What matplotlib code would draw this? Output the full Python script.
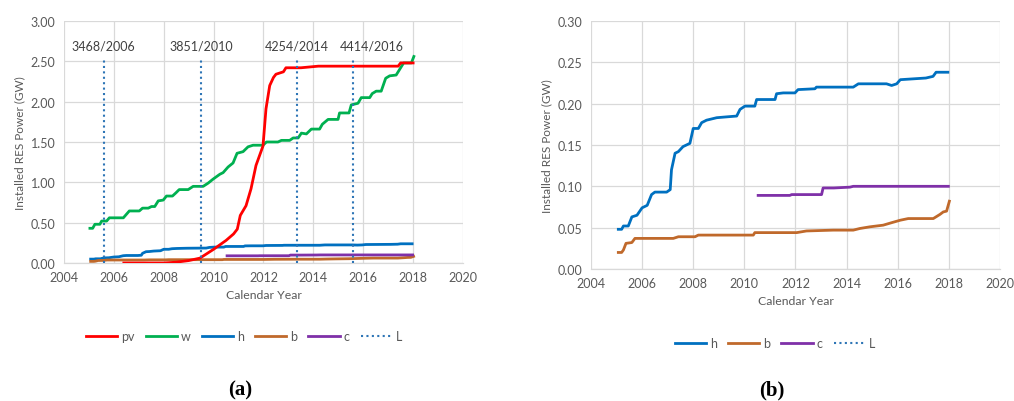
import matplotlib
matplotlib.use("Agg")
import matplotlib.pyplot as plt

# ---------------- data ----------------
pv_year = [2006.4, 2008.0, 2008.5, 2009.0, 2009.45, 2010.0, 2010.5, 2010.8, 2010.95, 2011.07,
           2011.3, 2011.5, 2011.7, 2011.98, 2012.1, 2012.25, 2012.4, 2012.5, 2012.8, 2012.9,
           2013.5, 2014.2, 2017.4, 2017.5, 2018.0]
pv = [0.0, 0.0, 0.01, 0.03, 0.06, 0.17, 0.28, 0.36, 0.42, 0.59,
      0.71, 0.92, 1.21, 1.45, 1.91, 2.20, 2.30, 2.34, 2.37, 2.42,
      2.42, 2.44, 2.44, 2.48, 2.48]

w_year = [2005.04, 2005.15, 2005.24, 2005.44, 2005.51, 2005.71, 2005.82, 2006.38, 2006.62, 2007.02,
          2007.15, 2007.38, 2007.51, 2007.64, 2007.78, 2007.98, 2008.11, 2008.35, 2008.49, 2008.62,
          2008.98, 2009.18, 2009.58, 2009.78, 2009.98, 2010.25, 2010.38, 2010.58, 2010.78, 2010.94,
          2011.18, 2011.38, 2011.58, 2011.98, 2012.12, 2012.58, 2012.72, 2013.05, 2013.19, 2013.39,
          2013.52, 2013.72, 2013.92, 2014.25, 2014.36, 2014.59, 2014.99, 2015.05, 2015.43, 2015.52,
          2015.79, 2015.92, 2016.26, 2016.36, 2016.52, 2016.72, 2016.90, 2017.06, 2017.32, 2017.46,
          2017.62, 2017.93, 2018.03]
w = [0.43, 0.43, 0.48, 0.48, 0.52, 0.52, 0.56, 0.56, 0.645, 0.645,
     0.68, 0.68, 0.70, 0.70, 0.77, 0.78, 0.83, 0.83, 0.87, 0.91,
     0.91, 0.95, 0.95, 0.99, 1.04, 1.10, 1.12, 1.19, 1.24, 1.36,
     1.38, 1.44, 1.46, 1.46, 1.50, 1.50, 1.52, 1.52, 1.55, 1.55,
     1.61, 1.60, 1.66, 1.66, 1.72, 1.78, 1.78, 1.86, 1.86, 1.96,
     1.98, 2.05, 2.05, 2.10, 2.13, 2.13, 2.29, 2.32, 2.33, 2.40,
     2.48, 2.48, 2.56]

h_year = [2005.07, 2005.2, 2005.27, 2005.46, 2005.6, 2005.8, 2006.0, 2006.2, 2006.37, 2006.5,
          2006.96, 2007.1, 2007.15, 2007.29, 2007.42, 2007.6, 2007.87, 2008.0, 2008.2, 2008.33,
          2008.52, 2008.92, 2009.3, 2009.7, 2009.83, 2010.02, 2010.41, 2010.48, 2011.2, 2011.26,
          2011.52, 2011.98, 2012.1, 2012.76, 2012.82, 2014.26, 2014.46, 2015.56, 2015.76, 2015.96,
          2016.1, 2016.6, 2017.1, 2017.38, 2017.5, 2017.96]
h = [0.048, 0.048, 0.052, 0.052, 0.063, 0.065, 0.074, 0.077, 0.090, 0.093,
     0.093, 0.096, 0.120, 0.140, 0.142, 0.148, 0.152, 0.170, 0.170, 0.177,
     0.180, 0.183, 0.184, 0.185, 0.193, 0.197, 0.197, 0.205, 0.205, 0.212,
     0.213, 0.213, 0.217, 0.218, 0.220, 0.220, 0.224, 0.224, 0.222, 0.224,
     0.229, 0.230, 0.231, 0.233, 0.238, 0.238]

b_year = [2005.07, 2005.2, 2005.27, 2005.37, 2005.6, 2005.72, 2007.22, 2007.42, 2008.07, 2008.2,
          2010.35, 2010.41, 2012.05, 2012.43, 2013.48, 2014.26, 2014.52, 2014.91, 2015.43, 2015.76,
          2016.1, 2016.41, 2017.39, 2017.65, 2017.78, 2017.91, 2018.02]
b = [0.020, 0.020, 0.023, 0.031, 0.032, 0.037, 0.037, 0.039, 0.039, 0.041,
     0.041, 0.044, 0.044, 0.046, 0.047, 0.047, 0.049, 0.051, 0.053, 0.056,
     0.059, 0.061, 0.061, 0.066, 0.069, 0.070, 0.082]

c_year = [2010.54, 2011.78, 2011.85, 2013.02, 2013.08, 2013.5, 2014.13, 2014.26, 2017.98]
c = [0.089, 0.089, 0.090, 0.090, 0.098, 0.098, 0.099, 0.100, 0.100]

L_year = [2005.6, 2009.5, 2013.35, 2015.6]
L_top = 2.52
L_labels = ["3468/2006", "3851/2010", "4254/2014", "4414/2016"]
L_label_x = [2005.58, 2009.51, 2013.32, 2016.35]
L_label_y = 2.70

x_ticks = [2004, 2006, 2008, 2010, 2012, 2014, 2016, 2018, 2020]
y_ticks_a = [0.0, 0.5, 1.0, 1.5, 2.0, 2.5, 3.0]
y_ticks_b = [0.0, 0.05, 0.10, 0.15, 0.20, 0.25, 0.30]

# ---------------- style ----------------
COL = {"pv": "#FF0000", "w": "#00B050", "h": "#0070C0", "b": "#C0692B",
       "c": "#7F30A8", "L": "#2E75B6"}
TXT = "#595959"
GRID = "#D9D9D9"
FONT = "Lato"
LW = 2.0

fig = plt.figure(figsize=(10.14, 4.02), dpi=100)
axA = fig.add_axes([0.0631, 0.3433, 0.3935, 0.6020])
axB = fig.add_axes([0.5828, 0.3284, 0.4034, 0.6169])


def style(ax, yticks, fmt):
    ax.set_xlim(2004, 2020)
    ax.set_ylim(yticks[0], yticks[-1])
    ax.set_xticks(x_ticks)
    ax.set_yticks(yticks)
    ax.set_xticklabels([str(t) for t in x_ticks], family=FONT, fontsize=9, color=TXT)
    ax.set_yticklabels([fmt.format(t) for t in yticks], family=FONT, fontsize=9, color=TXT)
    ax.tick_params(length=0, pad=6)
    ax.grid(True, color=GRID, linewidth=0.9)
    ax.set_axisbelow(True)
    for s in ["top", "right", "left"]:
        ax.spines[s].set_visible(False)
    ax.spines["bottom"].set_color(GRID)
    ax.spines["bottom"].set_linewidth(0.9)
    ax.set_xlabel("Calendar Year", family=FONT, fontsize=8.8, color=TXT, labelpad=4)
    ax.set_ylabel("Installed RES Power (GW)", family=FONT, fontsize=8.5, color=TXT, labelpad=4)


style(axA, y_ticks_a, "{:.2f}")
style(axB, y_ticks_b, "{:.2f}")

# panel (a)
axA.plot(pv_year, pv, color=COL["pv"], lw=LW, label="pv", zorder=5)
axA.plot(w_year, w, color=COL["w"], lw=LW, label="w", zorder=4)
axA.plot(h_year, h, color=COL["h"], lw=LW, label="h", zorder=3)
axA.plot(b_year, b, color=COL["b"], lw=LW, label="b", zorder=3)
axA.plot(c_year, c, color=COL["c"], lw=LW, label="c", zorder=3)
for i, xv in enumerate(L_year):
    axA.plot([xv, xv], [0, L_top], color=COL["L"], lw=1.5, ls=(0, (1, 1.6)),
             label="L" if i == 0 else None, zorder=6)
for xl, lab in zip(L_label_x, L_labels):
    axA.text(xl, L_label_y, lab, ha="center", va="center", family=FONT,
             fontsize=9.0, color="#404040")

# panel (b)
axB.plot(h_year, h, color=COL["h"], lw=LW, label="h")
axB.plot(b_year, b, color=COL["b"], lw=LW, label="b")
axB.plot(c_year, c, color=COL["c"], lw=LW, label="c")
axB.plot([], [], color=COL["L"], lw=1.5, ls=(0, (1, 1.6)), label="L")

leg_kw = dict(frameon=False, handlelength=2.5, handletextpad=0.3, columnspacing=0.9,
              prop={"family": FONT, "size": 9}, labelcolor=TXT)
axA.legend(loc="center", bbox_to_anchor=(244 / 1014, 1 - 337 / 402), ncol=6,
           bbox_transform=fig.transFigure, **leg_kw)
axB.legend(loc="center", bbox_to_anchor=(775 / 1014, 1 - 344 / 402), ncol=4,
           bbox_transform=fig.transFigure, **leg_kw)

fig.text(240 / 1014, 1 - 390 / 402, "(a)", ha="center", va="center",
         family="Liberation Serif", fontweight="bold", fontsize=15, color="black")
fig.text(772 / 1014, 1 - 390 / 402, "(b)", ha="center", va="center",
         family="Liberation Serif", fontweight="bold", fontsize=15, color="black")

fig.savefig("out.png", dpi=100, facecolor="white")
